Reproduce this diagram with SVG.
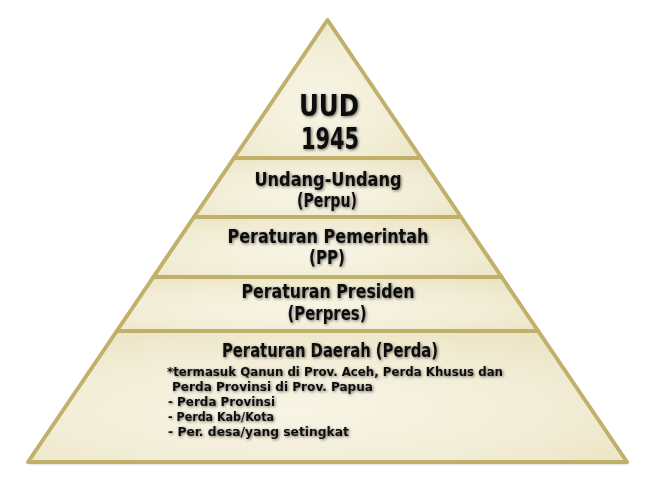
<svg xmlns="http://www.w3.org/2000/svg" width="662" height="479" viewBox="0 0 662 479">
  <defs>
    <radialGradient id="fillGrad" cx="0.45" cy="0.6" r="0.7">
      <stop offset="0" stop-color="#f8f5e6"/>
      <stop offset="0.6" stop-color="#f2edd6"/>
      <stop offset="1" stop-color="#ebe4c4"/>
    </radialGradient>
    <filter id="glow" x="-10%" y="-30%" width="120%" height="160%">
      <feGaussianBlur in="SourceAlpha" stdDeviation="1.4" result="b"/>
      <feOffset in="b" dx="0.8" dy="0.8" result="o"/>
      <feFlood flood-color="#000" flood-opacity="0.55"/>
      <feComposite in2="o" operator="in" result="s"/>
      <feMerge><feMergeNode in="s"/><feMergeNode in="SourceGraphic"/></feMerge>
    </filter>
    <filter id="edgeShadow" x="-5%" y="-5%" width="110%" height="110%">
      <feGaussianBlur in="SourceAlpha" stdDeviation="1" result="b"/>
      <feOffset in="b" dx="0.5" dy="1.5" result="o"/>
      <feFlood flood-color="#6b5f2a" flood-opacity="0.45"/>
      <feComposite in2="o" operator="in" result="s"/>
      <feMerge><feMergeNode in="s"/><feMergeNode in="SourceGraphic"/></feMerge>
    </filter>
  </defs>
  <style>
    .band { fill: url(#fillGrad); stroke: #c0b06a; stroke-width: 4; stroke-linejoin: round; }
    .t { font-family: "DejaVu Sans Condensed", "DejaVu Sans", sans-serif; font-stretch: condensed; font-weight: bold; fill: #111; text-anchor: middle; filter: url(#glow); }
    .big { font-size: 30px; }
    .mid { font-size: 19px; }
    .sm { font-family: "DejaVu Sans Condensed", "DejaVu Sans", sans-serif; font-stretch: condensed; font-weight: bold; fill: #111; font-size: 12.5px; filter: url(#glow); }
  </style>
  <rect width="662" height="479" fill="#ffffff"/>
  <g filter="url(#edgeShadow)">
    <polygon points="327.5,20 627,462 28,462" fill="url(#fillGrad)"/>
  </g>
  <g id="uud">
    <polygon class="band" points="327.5,20 421,158 234,158"/>
    <text class="t big" x="329" y="116" textLength="60" lengthAdjust="spacingAndGlyphs">UUD</text>
    <text class="t big" x="330" y="149" textLength="58" lengthAdjust="spacingAndGlyphs">1945</text>
  </g>
  <g id="uu">
    <polygon class="band" points="234,158 421,158 461,217 194,217"/>
    <text class="t mid" x="328" y="186" textLength="147" lengthAdjust="spacingAndGlyphs">Undang-Undang</text>
    <text class="t mid" x="327" y="207" textLength="60" lengthAdjust="spacingAndGlyphs">(Perpu)</text>
  </g>
  <g id="pp">
    <polygon class="band" points="194,217 461,217 501.6,277 153.4,277"/>
    <text class="t mid" x="328" y="243" textLength="201" lengthAdjust="spacingAndGlyphs">Peraturan Pemerintah</text>
    <text class="t mid" x="327" y="264" textLength="36" lengthAdjust="spacingAndGlyphs">(PP)</text>
  </g>
  <g id="perpres">
    <polygon class="band" points="153.4,277 501.6,277 538.2,331 116.8,331"/>
    <text class="t mid" x="328" y="298" textLength="173" lengthAdjust="spacingAndGlyphs">Peraturan Presiden</text>
    <text class="t mid" x="327" y="320" textLength="79" lengthAdjust="spacingAndGlyphs">(Perpres)</text>
  </g>
  <g id="perda">
    <polygon class="band" points="116.8,331 538.2,331 627,462 28,462"/>
    <text class="t mid" x="330" y="357" textLength="216" lengthAdjust="spacingAndGlyphs">Peraturan Daerah (Perda)</text>
    <text class="sm" x="167" y="376" textLength="336" lengthAdjust="spacingAndGlyphs">*termasuk Qanun di Prov. Aceh, Perda Khusus dan</text>
    <text class="sm" x="172" y="391" textLength="201" lengthAdjust="spacingAndGlyphs">Perda Provinsi di Prov. Papua</text>
    <text class="sm" x="168" y="406" textLength="107" lengthAdjust="spacingAndGlyphs">- Perda Provinsi</text>
    <text class="sm" x="168" y="421" textLength="106" lengthAdjust="spacingAndGlyphs">- Perda Kab/Kota</text>
    <text class="sm" x="168" y="436" textLength="181" lengthAdjust="spacingAndGlyphs">- Per. desa/yang setingkat</text>
  </g>
  <g id="connectors"/>
</svg>
